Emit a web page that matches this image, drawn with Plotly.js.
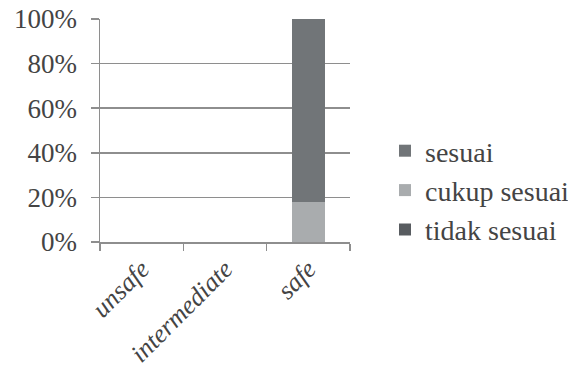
<!DOCTYPE html>
<html>
<head>
<meta charset="utf-8">
<script src="https://cdn.plot.ly/plotly-3.0.1.min.js"></script>
<style>
html,body{margin:0;padding:0;background:#fff;}
#chart{width:568px;height:380px;}
</style>
</head>
<body>
<div id="chart"></div>
<script>
const categories = ["unsafe", "intermediate", "safe"];
const tidakSesuai = [0, 0, 0];
const cukupSesuai = [0, 0, 0.18];
const sesuai = [0, 0, 0.82];
const seriesNames = ["tidak sesuai", "cukup sesuai", "sesuai"];
const yTickVals = [0, 0.2, 0.4, 0.6, 0.8, 1];
const yTickText = ["0%", "20%", "40%", "60%", "80%", "100%"];

const colTidak = "#585c60";
const colCukup = "#a9acae";
const colSesuai = "#717578";
const gridCol = "#8e8e8e";

const data = [
  {type: "bar", x: categories, y: tidakSesuai, name: seriesNames[0], marker: {color: colTidak}, width: 0.4},
  {type: "bar", x: categories, y: cukupSesuai, name: seriesNames[1], marker: {color: colCukup}, width: 0.4},
  {type: "bar", x: categories, y: sesuai, name: seriesNames[2], marker: {color: colSesuai}, width: 0.4}
];

const layout = {
  width: 568, height: 380,
  margin: {l: 100, r: 218, t: 19, b: 138},
  barmode: "stack",
  xaxis: {
    type: "category",
    range: [-0.5, 2.5], automargin: false,
    showline: true, linecolor: gridCol, linewidth: 1.5,
    ticks: "outside", tickson: "boundaries", ticklen: 7, tickcolor: gridCol, tickwidth: 1.5,
    tickangle: -45,
    tickfont: {family: "Times New Roman", size: 26, style: "italic"},
    showgrid: false, zeroline: false
  },
  yaxis: {
    range: [0, 1], automargin: false,
    tickvals: yTickVals, ticktext: yTickText,
    showline: true, linecolor: gridCol, linewidth: 1.5,
    ticks: "outside", ticklen: 8, tickcolor: gridCol, tickwidth: 1.5,
    ticklabelstandoff: 8,
    showgrid: true, gridcolor: gridCol, gridwidth: 1.5,
    zeroline: false,
    tickfont: {family: "Times New Roman", size: 27}
  },
  legend: {
    xref: "container", yref: "container",
    x: 385 / 568, xanchor: "left", y: 1 - 126 / 380, yanchor: "top",
    traceorder: "reversed", tracegroupgap: 0,
    font: {family: "Times New Roman", size: 28}
  }
};

Plotly.newPlot("chart", data, layout, {displayModeBar: false, staticPlot: true});
</script>
</body>
</html>
